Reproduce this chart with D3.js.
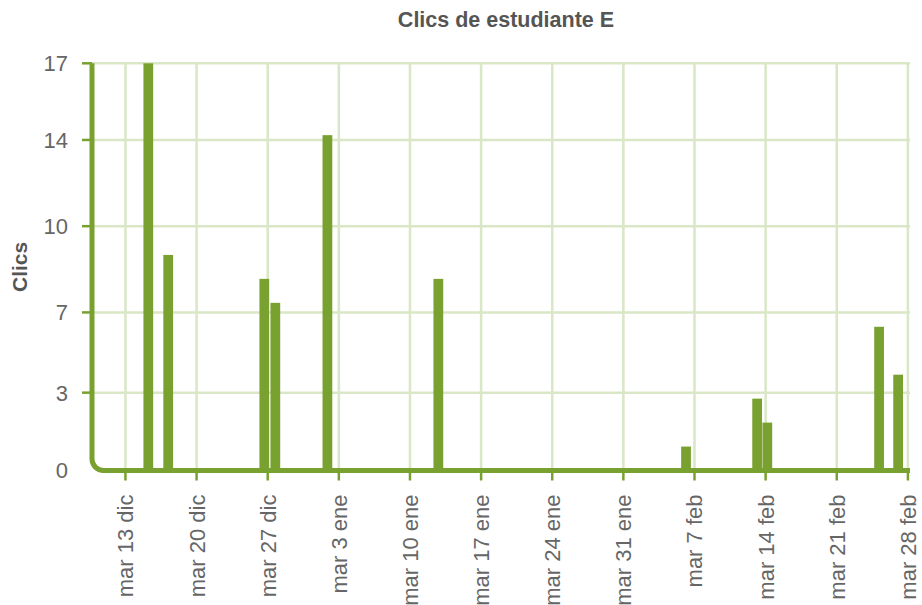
<!DOCTYPE html>
<html>
<head>
<meta charset="utf-8">
<script src="https://cdn.jsdelivr.net/npm/d3@7"></script>
<style>
    body { margin: 0; background: #fff; }
    svg { display: block; }
    text { font-family: "Liberation Sans", Arial, sans-serif; }
</style>
</head>
<body>
<svg id="chart" width="922" height="605"></svg>
<script>
// clicks per session (time of the session, number of clicks)
var clickTimes = ["2022-12-15T06:00", "2022-12-17T05:00", "2022-12-26T16:00", "2022-12-27T18:00",
                  "2023-01-01T21:00", "2023-01-12T19:00", "2023-02-06T04:00", "2023-02-13T04:00",
                  "2023-02-14T04:00", "2023-02-25T04:00", "2023-02-27T01:00"];
var clickCounts = [17, 9, 8, 7, 14, 8, 1, 3, 2, 6, 4];

var xRange = ["2022-12-09T17:00", "2023-02-28T05:00"];
var yMax = 17;
var yTickValues = [0, 3.25, 6.6, 10.2, 13.8, 17];

// spanish labels for the date axis
var shortDays = ["dom", "lun", "mar", "mié", "jue", "vie", "sáb"];
var shortMonths = ["ene", "feb", "mar", "abr", "may", "jun", "jul", "ago", "sep", "oct", "nov", "dic"];

var green = "#79a130",
    gridColor = "#d9e7c6",
    textColor = "#666666";

var svg = d3.select("#chart");
// (don't call it "top": window.top is read only)
var plotLeft = 92, plotRight = 910, plotTop = 63.3, plotBottom = 470.5;

var locale = d3.timeFormatLocale({
    dateTime: "%x, %X", date: "%d/%m/%Y", time: "%-H:%M:%S",
    periods: ["AM", "PM"],
    days: ["domingo", "lunes", "martes", "miércoles", "jueves", "viernes", "sábado"],
    shortDays: shortDays,
    months: ["enero", "febrero", "marzo", "abril", "mayo", "junio", "julio", "agosto", "septiembre", "octubre", "noviembre", "diciembre"],
    shortMonths: shortMonths
});
var fmt = locale.format("%a %-d %b");

var x = d3.scaleTime()
    .domain(xRange.map(function(d) { return new Date(d); }))
    .range([plotLeft, plotRight]);
var y = d3.scaleLinear()
    .domain([0, yMax])
    .range([plotBottom, plotTop]);

var weekTicks = d3.timeTuesday.range(new Date("2022-12-13T00:00"), x.domain()[1]);
var dayWidth = x(new Date("2023-01-02T00:00")) - x(new Date("2023-01-01T00:00"));

// grid
var grid = svg.append("g").attr("class", "grid");
grid.selectAll("line.h")
    .data(yTickValues.slice(1))
    .enter().append("line")
        .attr("class", "h")
        .attr("x1", plotLeft).attr("x2", plotRight)
        .attr("y1", function(d) { return y(d); })
        .attr("y2", function(d) { return y(d); })
        .attr("stroke", gridColor)
        .attr("stroke-width", 2.5);
grid.selectAll("line.v")
    .data(weekTicks)
    .enter().append("line")
        .attr("class", "v")
        .attr("x1", function(d) { return x(d); })
        .attr("x2", function(d) { return x(d); })
        .attr("y1", plotTop).attr("y2", plotBottom)
        .attr("stroke", gridColor)
        .attr("stroke-width", 2.5);

// bars
svg.append("g").attr("class", "bars")
    .selectAll("rect")
    .data(clickTimes)
    .enter().append("rect")
        .attr("x", function(d) { return x(new Date(d)) - (dayWidth - 0.4) / 2; })
        .attr("width", dayWidth - 0.4)
        .attr("y", function(d, i) { return y(clickCounts[i]); })
        .attr("height", function(d, i) { return plotBottom - y(clickCounts[i]); })
        .attr("fill", green);

// y ticks and labels
var yAxis = svg.append("g").attr("class", "y-axis");
yAxis.selectAll("line")
    .data(yTickValues.slice(1))
    .enter().append("line")
        .attr("x1", plotLeft - 10).attr("x2", plotLeft)
        .attr("y1", function(d) { return y(d); })
        .attr("y2", function(d) { return y(d); })
        .attr("stroke", green)
        .attr("stroke-width", 2.5);
yAxis.selectAll("text")
    .data(yTickValues)
    .enter().append("text")
        .attr("x", plotLeft - 24)
        .attr("y", function(d) { return y(d); })
        .attr("dy", "0.36em")
        .attr("text-anchor", "end")
        .attr("font-size", 22)
        .attr("fill", textColor)
        .text(function(d) { return d3.format(".0f")(d); });

// x ticks and labels
var xAxis = svg.append("g").attr("class", "x-axis");
xAxis.selectAll("line")
    .data(weekTicks)
    .enter().append("line")
        .attr("x1", function(d) { return x(d); })
        .attr("x2", function(d) { return x(d); })
        .attr("y1", plotBottom).attr("y2", plotBottom + 10)
        .attr("stroke", green)
        .attr("stroke-width", 2.5);
xAxis.selectAll("text")
    .data(weekTicks)
    .enter().append("text")
        .attr("transform", function(d) { return "translate(" + x(d) + "," + (plotBottom + 24) + ") rotate(-90)"; })
        .attr("dy", "0.36em")
        .attr("text-anchor", "end")
        .attr("font-size", 22)
        .attr("fill", textColor)
        .text(function(d) { return fmt(d); });

// axis line with rounded corner
var r = 11.5;
svg.append("path")
    .attr("d", "M" + plotLeft + "," + plotTop + "V" + (plotBottom - r) +
        "A" + r + "," + r + " 0 0 0 " + (plotLeft + r) + "," + plotBottom + "H" + plotRight)
    .attr("fill", "none")
    .attr("stroke", green)
    .attr("stroke-width", 5);

// titles
svg.append("text")
    .attr("x", 506).attr("y", 27)
    .attr("text-anchor", "middle")
    .attr("font-size", 21.5)
    .attr("font-weight", "bold")
    .attr("fill", "#555555")
    .text("Clics de estudiante E");

svg.append("text")
    .attr("transform", "translate(27," + ((plotTop + plotBottom) / 2) + ") rotate(-90)")
    .attr("text-anchor", "middle")
    .attr("font-size", 21)
    .attr("font-weight", "bold")
    .attr("fill", "#555555")
    .text("Clics");
</script>
</body>
</html>
